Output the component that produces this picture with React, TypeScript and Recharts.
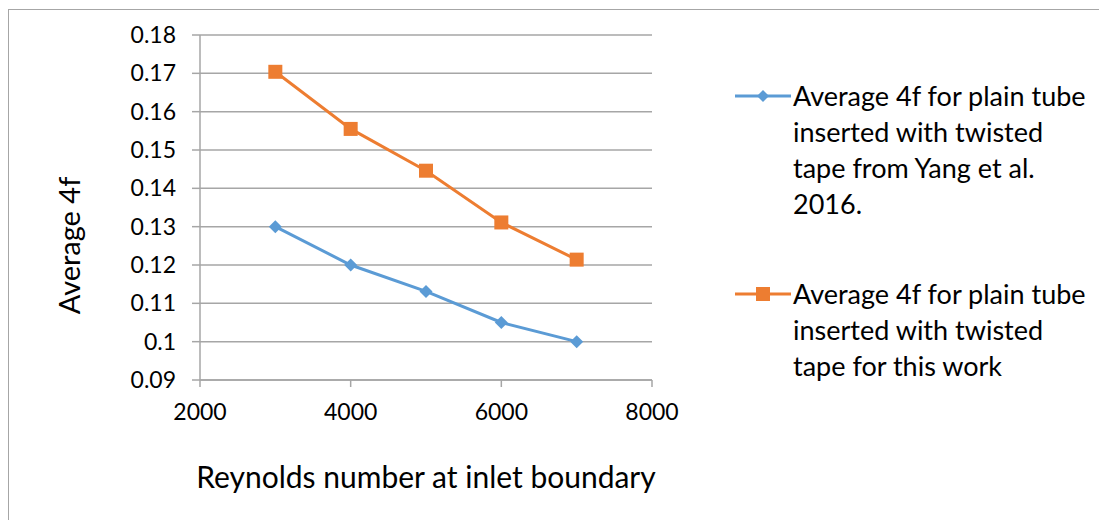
import React from "react";
import { LineChart, Line, XAxis, YAxis, CartesianGrid, Legend, Label } from "recharts";

// Reynolds number at the inlet boundary
const reynolds = [3000, 4000, 5000, 6000, 7000];
// Average 4f, plain tube with twisted tape (Yang et al. 2016)
const yangValues = [0.13, 0.12, 0.1131, 0.105, 0.1];
// Average 4f, plain tube with twisted tape (this work)
const thisWorkValues = [0.1704, 0.1555, 0.1446, 0.1311, 0.1214];

const xTicks = [2000, 4000, 6000, 8000];
const yTicks = [0.09, 0.1, 0.11, 0.12, 0.13, 0.14, 0.15, 0.16, 0.17, 0.18];

const yangName = "Average 4f for plain tube inserted with twisted tape from Yang et al. 2016.";
const thisWorkName = "Average 4f for plain tube inserted with twisted tape for this work";
const yangLegendLines = ["Average 4f for plain tube", "inserted with twisted", "tape from Yang et al.", "2016."];
const thisWorkLegendLines = ["Average 4f for plain tube", "inserted with twisted", "tape for this work"];

const BLUE = "#5B9BD5";
const ORANGE = "#ED7D31";
const GRID = "#A6A6A6";
const FONT = "Lato, 'Open Sans', sans-serif";

const data = reynolds.map((re, i) => ({
  re,
  yang: yangValues[i],
  thisWork: thisWorkValues[i],
}));

const DiamondDot = (props: any) => {
  const { cx, cy, index } = props;
  if (cx == null || cy == null) return null;
  const r = 6.5;
  return (
    <path
      key={`d-${index}`}
      d={`M${cx},${cy - r}L${cx + r},${cy}L${cx},${cy + r}L${cx - r},${cy}Z`}
      fill={BLUE}
    />
  );
};

const SquareDot = (props: any) => {
  const { cx, cy, index } = props;
  if (cx == null || cy == null) return null;
  const s = 14;
  return <rect key={`s-${index}`} x={cx - s / 2} y={cy - s / 2} width={s} height={s} fill={ORANGE} />;
};

const legendEntries = [
  { color: BLUE, lines: yangLegendLines, marker: "diamond" },
  { color: ORANGE, lines: thisWorkLegendLines, marker: "square" },
];

const LegendContent = () => (
  <div style={{ fontFamily: FONT, fontSize: 27, color: "#000", lineHeight: "36px", textAlign: "left" }}>
    {legendEntries.map((e, i) => (
      <div key={i} style={{ display: "flex", alignItems: "flex-start", marginBottom: i === 0 ? 54 : 0 }}>
        <svg width={58} height={36} style={{ flex: "none" }}>
          <line x1={0} y1={18} x2={56} y2={18} stroke={e.color} strokeWidth={3} />
          {e.marker === "diamond" ? (
            <path d="M28,12L34,18L28,24L22,18Z" fill={e.color} />
          ) : (
            <rect x={21} y={11} width={14} height={14} fill={e.color} />
          )}
        </svg>
        <div>
          {e.lines.map((l, j) => (
            <div key={j} style={{ whiteSpace: "nowrap" }}>{l}</div>
          ))}
        </div>
      </div>
    ))}
  </div>
);

const YTitle = (props: any) => {
  const { viewBox } = props;
  const x = viewBox.x + 60;
  const y = viewBox.y + viewBox.height / 2 + 38;
  return (
    <text
      x={x}
      y={y}
      transform={`rotate(-90, ${x}, ${y})`}
      textAnchor="middle"
      dominantBaseline="central"
      fontFamily={FONT}
      fontSize={29}
      fill="#000"
    >
      Average 4f
    </text>
  );
};

const fmt = (v: number) => String(Number(v.toFixed(2)));

export default function App() {
  return (
    <div style={{ position: "relative", width: 1099, height: 512, overflow: "hidden", background: "#fff" }}>
      <div
        style={{
          position: "absolute",
          left: 0,
          top: 1,
          width: 1300,
          height: 700,
          border: `1px solid ${GRID}`,
        }}
      />
      <LineChart
        width={1099}
        height={512}
        data={data}
        margin={{ top: 27, right: 455, bottom: 30, left: 0 }}
        style={{ position: "absolute", left: 0, top: 0, fontFamily: FONT }}
      >
        <CartesianGrid vertical={false} stroke={GRID} strokeWidth={1.5} />
        <XAxis
          dataKey="re"
          type="number"
          domain={[2000, 8000]}
          ticks={xTicks}
          height={110}
          stroke={GRID}
          strokeWidth={1.5}
          tickSize={7}
          tickMargin={17}
          interval={0}
          tick={{ fill: "#000", fontSize: 23, fontFamily: FONT }}
        >
          <Label
            value="Reynolds number at inlet boundary"
            position="insideBottom"
            offset={2}
            style={{ fill: "#000", fontSize: 30, fontFamily: FONT }}
          />
        </XAxis>
        <YAxis
          type="number"
          domain={[0.09, 0.18]}
          ticks={yTicks}
          width={192}
          stroke={GRID}
          strokeWidth={1.5}
          tickSize={8}
          tickMargin={16}
          tickFormatter={fmt}
          tick={{ fill: "#000", fontSize: 23, fontFamily: FONT }}
          interval={0}
        >
          <Label content={<YTitle />} />
        </YAxis>
        <Legend
          layout="horizontal"
          verticalAlign="middle"
          align="center"
          wrapperStyle={{ left: 727, top: 70, width: 372 }}
          content={<LegendContent />}
        />
        <Line
          type="linear"
          dataKey="yang"
          name={yangName}
          stroke={BLUE}
          strokeWidth={3}
          dot={<DiamondDot />}
          activeDot={false}
          isAnimationActive={false}
        />
        <Line
          type="linear"
          dataKey="thisWork"
          name={thisWorkName}
          stroke={ORANGE}
          strokeWidth={3}
          dot={<SquareDot />}
          activeDot={false}
          isAnimationActive={false}
        />
      </LineChart>
    </div>
  );
}
